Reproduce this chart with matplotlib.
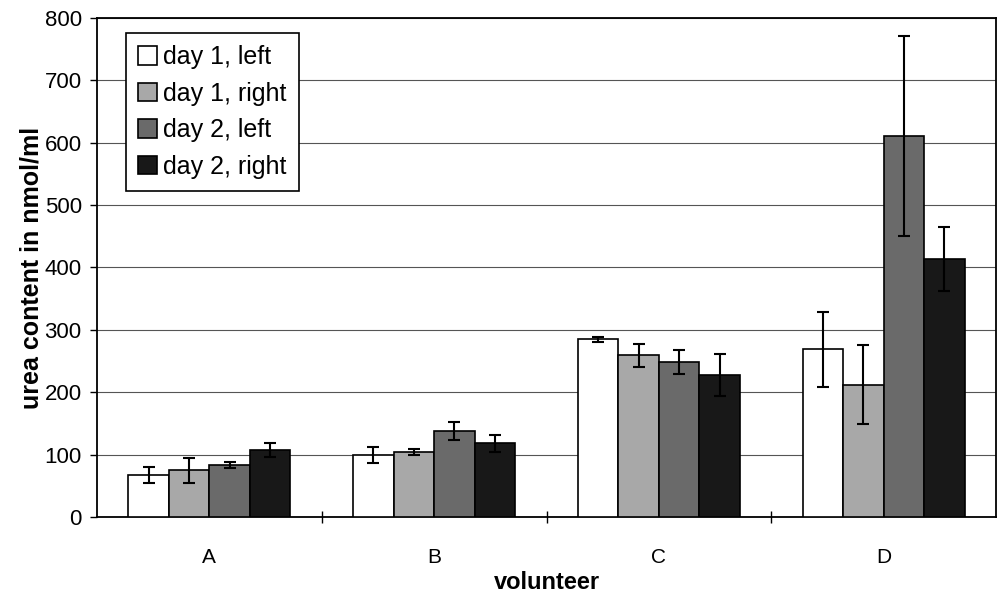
import numpy as np
from matplotlib import pyplot as plt
from matplotlib.ticker import FixedLocator

plt.rcParams['font.family'] = ['Liberation Sans', 'DejaVu Sans']

volunteers = ['A', 'B', 'C', 'D']
series_names = ['day 1, left', 'day 1, right', 'day 2, left', 'day 2, right']

day1_left = [68, 100, 285, 269]
day1_right = [75, 104, 259, 212]
day2_left = [83, 138, 248, 611]
day2_right = [108, 118, 228, 414]

day1_left_err = [13, 13, 4, 60]
day1_right_err = [20, 5, 19, 63]
day2_left_err = [5, 14, 19, 160]
day2_right_err = [11, 13, 34, 51]

values = [day1_left, day1_right, day2_left, day2_right]
errors = [day1_left_err, day1_right_err, day2_left_err, day2_right_err]
colors = ['#ffffff', '#a8a8a8', '#6a6a6a', '#181818']

fig = plt.figure(figsize=(9.97, 5.95), dpi=100)
ax = fig.add_axes([0.0973, 0.131, 0.9017, 0.839])

x = np.arange(len(volunteers))
width = 0.18
offsets = (np.arange(4) - 1.5) * width

for vals, errs, col, name, off in zip(values, errors, colors, series_names, offsets):
    ax.bar(x + off, vals, width, color=col, edgecolor='black', linewidth=1.2,
           label=name, zorder=3)
    ax.errorbar(x + off, vals, yerr=errs, fmt='none', ecolor='black',
                elinewidth=1.5, capsize=4, capthick=1.5, zorder=4)

ax.set_xlim(-0.5, 3.5)
ax.set_ylim(0, 800)
ax.set_yticks(np.arange(0, 801, 100))
ax.yaxis.grid(True, color='#555555', linewidth=0.8, zorder=0)
ax.set_axisbelow(True)

ax.set_xticks(x)
ax.set_xticklabels(volunteers, fontsize=15)
ax.tick_params(axis='x', which='major', length=0, pad=22)
ax.xaxis.set_minor_locator(FixedLocator([0.5, 1.5, 2.5]))
ax.tick_params(axis='x', which='minor', direction='inout', length=9, width=1)
ax.tick_params(axis='y', direction='out', length=5, width=1, labelsize=16, pad=6)

ax.set_xlabel('volunteer', fontsize=17, fontweight='bold', labelpad=3)
ax.set_ylabel('urea content in nmol/ml', fontsize=18, fontweight='bold', labelpad=1)

for s in ax.spines.values():
    s.set_linewidth(1.3)
    s.set_color('black')

leg = ax.legend(loc='upper left', bbox_to_anchor=(0.032, 0.97), borderaxespad=0,
                fontsize=18, handlelength=0.75, handleheight=0.75, handletextpad=0.25,
                labelspacing=0.5, fancybox=False, framealpha=1, borderpad=0.5)
leg.get_frame().set_edgecolor('black')
leg.get_frame().set_linewidth(1.2)

fig.savefig('out.png', dpi=100)
